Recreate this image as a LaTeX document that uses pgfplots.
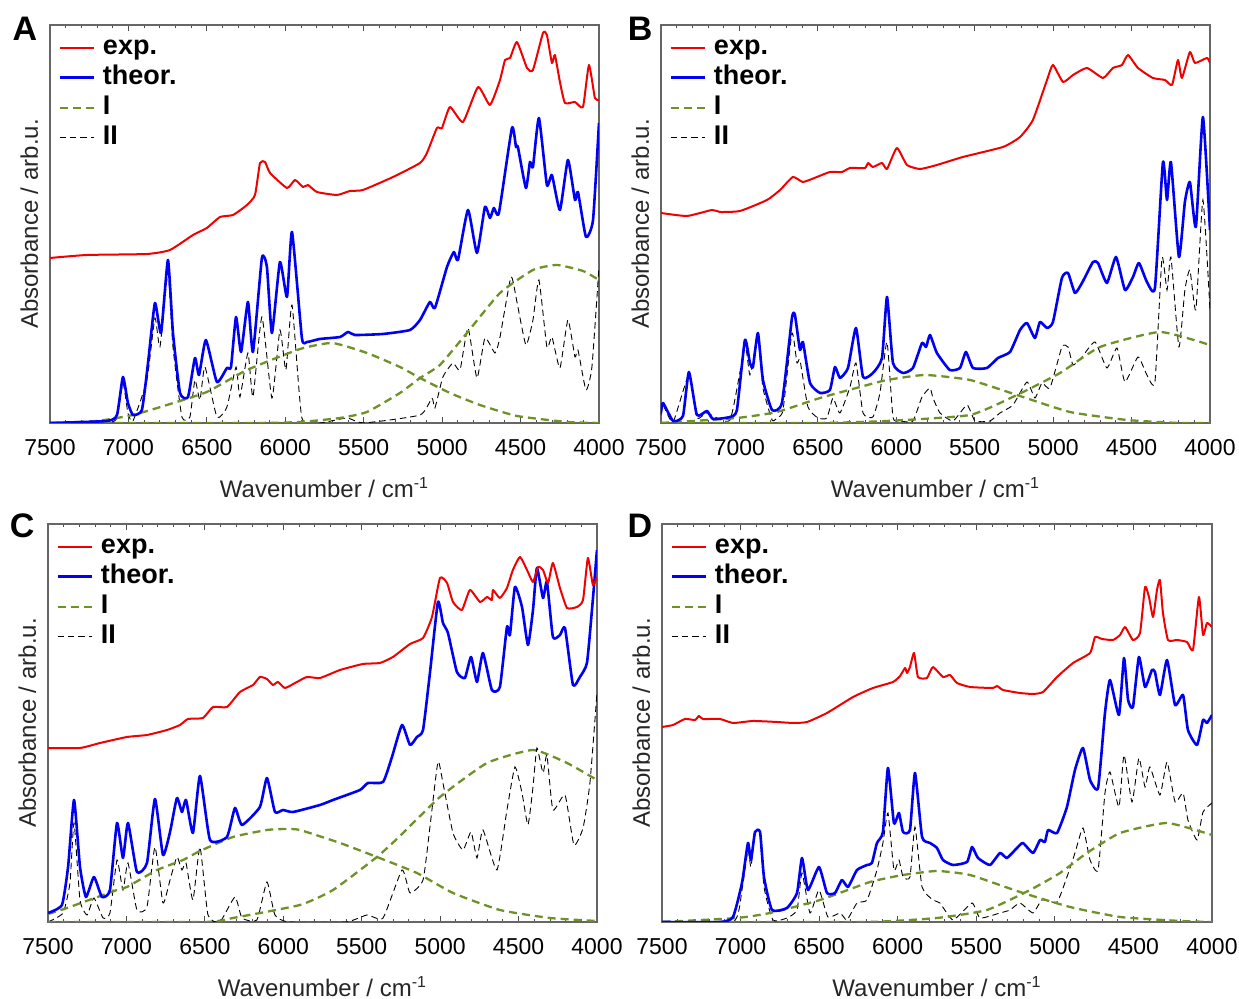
\documentclass[border=0pt]{standalone}
\usepackage{fontspec}
\setmainfont{Liberation Sans}
\usepackage{pgfplots}
\pgfplotsset{compat=1.18}

\definecolor{expred}{RGB}{240,0,0}
\definecolor{thblue}{RGB}{0,0,245}
\definecolor{compI}{RGB}{110,145,40}

\tikzset{
  sexp/.style={expred, line width=1.0pt, line join=round},
  sth/.style={thblue, line width=1.3pt, line join=round},
  sI/.style={compI, line width=1.15pt, dash pattern=on 4pt off 2.5pt},
  sII/.style={black, line width=0.45pt, dash pattern=on 3.2pt off 2pt},
  letter/.style={font=\bfseries\fontsize{17}{19}\selectfont, anchor=base},
}

\pgfplotsset{
  panel/.style={
    scale only axis, width=274.5pt, height=199pt, clip mode=individual,
    xmin=4000, xmax=7500, ymin=0, ymax=398, x dir=reverse,
    xtick={4000,4500,...,7500}, minor x tick num=4, ytick=\empty,
    tick align=inside, major tick length=3pt, minor tick length=1.6pt,
    axis line style={black!60, line width=0.6pt},
    every tick/.style={black!70, line width=0.4pt},
    ticklabel style={font=\fontsize{11.5}{13}\selectfont},
    xticklabel style={yshift=-4.5pt},
    /pgf/number format/assume math mode=true,
    /pgf/number format/1000 sep={}, scaled x ticks=false,
    xlabel={Wavenumber / cm\textsuperscript{-1}},
    ylabel={Absorbance / arb.u.},
    label style={font=\fontsize{12}{14}\selectfont, black!85},
    xlabel style={at={(rel axis cs:0.5,-0.186)}, anchor=base},
    ylabel style={at={(rel axis cs:-0.022,0.5)}, anchor=base},
    legend image code/.code={\draw[##1] (0pt,0pt) -- (17pt,0pt);},
    legend cell align=left,
    legend style={at={(rel axis cs:0,1)}, anchor=north west, xshift=4pt, yshift=-5pt,
      draw=none, fill=none, inner sep=0pt, row sep=2.6pt, column sep=4pt,
      font=\bfseries\fontsize{13.5}{15}\selectfont,
      nodes={inner sep=0pt, text height=9.8pt, text depth=2.6pt}},
    every axis plot/.append style={smooth, tension=0.3},
  },
}

\newcommand{\panellegend}{%
  \addlegendimage{sexp}
  \addlegendimage{sth}
  \addlegendimage{sI}
  \addlegendimage{sII}
  \legend{exp., theor., I, II}}

\begin{document}
\begin{tikzpicture}
\useasboundingbox (0,0) rectangle (619.5pt,499.5pt);

% ---------------- A ----------------
\begin{axis}[panel, at={(25pt,288pt)}, anchor=south west]
\addplot[sII, forget plot] coordinates {(7500,0) (7137,0) (7073,5) (7035,40) (7003,10) (6971,2) (6882,43) (6831,105) (6799,76) (6748,150) (6716,76) (6659,6) (6608,6) (6576,43) (6544,23) (6512,56) (6436,6) (6372,16) (6314,56) (6289,26) (6238,70) (6206,26) (6149,106) (6085,25) (6034,93) (5996,53) (5957,118) (5894,5) (5779,0) (5607,5) (5500,0) (5141,8) (5065,25) (5046,15) (4995,46) (4931,60) (4886,53) (4835,95) (4778,45) (4727,85) (4663,70) (4631,86) (4561,146) (4523,121) (4466,78) (4421,103) (4383,143) (4332,76) (4300,86) (4249,55) (4198,103) (4153,66) (4134,73) (4083,33) (4045,56) (4000,156)};
\addplot[sI, forget plot] coordinates {(7500,0) (7200,2) (6971,8) (6754,18) (6500,31) (6244,53) (5906,74) (5700,80) (5479,70) (5269,56) (5141,45) (4950,30) (4759,18) (4523,7) (4204,1) (4000,0)};
\addplot[sI, forget plot] coordinates {(7500,0) (6200,0) (5906,1) (5651,5) (5479,11) (5269,30) (5141,45) (5014,58) (4842,90) (4631,130) (4421,153) (4268,158) (4102,152) (4000,143)};
\addplot[sth, forget plot] coordinates {(7500,0) (7137,2) (7073,8) (7035,46) (7003,20) (6971,8) (6914,13) (6875,60) (6831,120) (6792,90) (6748,163) (6716,90) (6671,30) (6620,26) (6576,65) (6550,48) (6506,83) (6436,41) (6372,55) (6346,56) (6314,106) (6282,71) (6238,121) (6206,71) (6149,165) (6117,156) (6085,90) (6034,161) (5989,126) (5957,191) (5894,85) (5862,81) (5779,84) (5651,86) (5600,91) (5556,88) (5377,89) (5205,93) (5141,103) (5078,121) (5046,115) (4969,156) (4925,171) (4899,163) (4835,213) (4778,170) (4727,216) (4695,205) (4670,215) (4638,210) (4555,295) (4529,276) (4517,276) (4466,235) (4440,261) (4421,256) (4383,305) (4332,238) (4300,248) (4249,213) (4198,263) (4153,223) (4134,231) (4083,186) (4038,203) (4000,300)};
\addplot[sexp, forget plot] coordinates {(7500,165) (7264,168) (6882,169) (6735,173) (6588,188) (6500,195) (6416,206) (6333,208) (6244,218) (6193,228) (6161,260) (6129,261) (6097,250) (5989,235) (5938,243) (5887,236) (5855,238) (5798,231) (5670,228) (5588,232) (5505,233) (5313,246) (5141,260) (5097,270) (5033,295) (5001,295) (4950,316) (4867,301) (4771,336) (4695,318) (4631,343) (4599,363) (4567,365) (4523,381) (4459,355) (4421,353) (4357,390) (4332,388) (4300,360) (4281,368) (4249,341) (4217,320) (4153,321) (4102,316) (4064,358) (4026,325) (4000,323)};
\panellegend
\node[letter] at (rel axis cs:-0.0455,0.962) {A};
\end{axis}

% ---------------- B ----------------
\begin{axis}[panel, at={(330.5pt,288pt)}, anchor=south west]
\addplot[sII, forget plot] coordinates {(7500,8) (7487,18) (7423,1) (7322,48) (7271,5) (7207,10) (7060,3) (6965,76) (6933,48) (6882,85) (6850,35) (6792,3) (6761,5) (6722,13) (6665,90) (6633,60) (6614,63) (6563,16) (6499,5) (6442,5) (6404,25) (6359,10) (6295,36) (6257,60) (6212,10) (6149,6) (6104,30) (6059,81) (6021,6) (5976,2) (5894,2) (5836,26) (5785,35) (5766,25) (5721,10) (5638,2) (5549,18) (5498,2) (5403,2) (5339,10) (5256,18) (5167,41) (5116,25) (5071,40) (5020,35) (4944,76) (4905,76) (4873,58) (4816,66) (4733,81) (4657,55) (4593,75) (4542,41) (4459,66) (4402,48) (4351,41) (4306,165) (4274,133) (4249,166) (4198,76) (4160,133) (4128,153) (4090,113) (4045,223) (4000,113)};
\addplot[sI, forget plot] coordinates {(7500,0) (7016,5) (6761,11) (6486,25) (6231,36) (6059,43) (5817,48) (5530,43) (5231,28) (4893,11) (4529,3) (4200,0) (4000,0)};
\addplot[sI, forget plot] coordinates {(7500,0) (6500,0) (6059,2) (5530,8) (5231,28) (4956,50) (4701,76) (4319,91) (4000,78)};
\addplot[sth, forget plot] coordinates {(7500,10) (7487,20) (7423,2) (7360,7) (7322,51) (7271,8) (7207,12) (7168,4) (7060,6) (7016,13) (6965,83) (6933,60) (6914,56) (6882,90) (6850,43) (6792,13) (6729,20) (6665,105) (6646,108) (6614,73) (6595,81) (6550,40) (6486,30) (6423,33) (6391,56) (6359,45) (6308,55) (6257,95) (6212,46) (6149,50) (6091,65) (6059,126) (6021,60) (5957,50) (5894,55) (5836,80) (5810,76) (5785,88) (5741,70) (5659,53) (5594,55) (5556,71) (5511,55) (5422,55) (5352,65) (5275,71) (5211,93) (5167,100) (5116,85) (5084,101) (5039,95) (5001,101) (4944,145) (4905,150) (4861,130) (4816,140) (4746,161) (4714,160) (4657,140) (4599,166) (4542,133) (4491,146) (4453,160) (4402,141) (4351,135) (4300,261) (4274,223) (4249,261) (4198,166) (4160,221) (4128,241) (4090,196) (4045,306) (4000,193)};
\addplot[sexp, forget plot] coordinates {(7500,210) (7334,207) (7175,213) (7124,211) (6996,212) (6824,223) (6741,233) (6659,246) (6595,241) (6506,246) (6423,251) (6346,251) (6295,255) (6200,255) (6180,260) (6149,256) (6091,260) (6059,254) (5996,275) (5932,258) (5849,254) (5741,258) (5575,266) (5320,276) (5211,286) (5129,303) (5039,343) (5001,358) (4937,341) (4873,348) (4784,355) (4682,345) (4619,355) (4561,358) (4523,368) (4459,355) (4364,345) (4287,343) (4242,338) (4204,363) (4179,345) (4128,371) (4096,360) (4019,365) (4000,360)};
\panellegend
\node[letter] at (rel axis cs:-0.038,0.962) {B};
\end{axis}

% ---------------- C ----------------
\begin{axis}[panel, at={(24pt,38.5pt)}, anchor=south west]
\addplot[sII, forget plot] coordinates {(7500,0) (7404,9) (7360,39) (7334,99) (7296,22) (7251,7) (7207,24) (7149,4) (7105,9) (7060,62) (7022,32) (6990,59) (6933,12) (6869,15) (6818,75) (6767,19) (6722,42) (6678,65) (6646,52) (6620,59) (6576,22) (6531,75) (6480,7) (6404,0) (6308,25) (6263,4) (6168,2) (6104,40) (6053,7) (5964,0) (5600,0) (5466,7) (5364,4) (5243,52) (5192,29) (5109,42) (5065,95) (5014,160) (4982,139) (4918,89) (4854,72) (4803,90) (4765,64) (4727,92) (4638,52) (4574,112) (4523,155) (4478,129) (4440,97) (4408,135) (4383,174) (4344,149) (4319,167) (4281,112) (4204,127) (4147,77) (4089,94) (4045,139) (4000,229)};
\addplot[sI, forget plot] coordinates {(7500,8) (7379,14) (7060,32) (6996,35) (6805,52) (6639,62) (6531,71) (6321,85) (6104,92) (5980,93) (5894,92) (5638,79) (5403,65) (5148,49) (4918,29) (4619,12) (4300,4) (4000,1)};
\addplot[sI, forget plot] coordinates {(7500,0) (6500,0) (6321,4) (5894,17) (5683,32) (5403,65) (5256,86) (5001,125) (4701,159) (4408,172) (4191,159) (4000,142)};
\addplot[sth, forget plot] coordinates {(7500,9) (7411,17) (7372,55) (7334,122) (7296,55) (7258,25) (7207,45) (7156,25) (7105,32) (7060,99) (7022,64) (6990,99) (6933,50) (6869,59) (6818,123) (6767,67) (6722,90) (6678,124) (6646,110) (6620,122) (6576,89) (6531,146) (6467,82) (6359,85) (6308,114) (6263,97) (6149,115) (6104,144) (6053,110) (6002,112) (5938,110) (5766,117) (5683,122) (5511,132) (5460,139) (5364,140) (5307,165) (5243,197) (5192,177) (5148,185) (5109,192) (5065,249) (5014,320) (4982,299) (4950,289) (4893,250) (4842,244) (4803,265) (4765,240) (4727,269) (4670,232) (4619,235) (4574,295) (4555,287) (4523,335) (4478,315) (4440,277) (4408,312) (4383,354) (4344,324) (4319,340) (4281,285) (4236,287) (4204,294) (4153,237) (4109,245) (4064,259) (4032,312) (4000,372)};
\addplot[sexp, forget plot] coordinates {(7500,174) (7296,174) (7168,179) (6996,185) (6869,187) (6741,192) (6658,197) (6608,203) (6512,204) (6448,215) (6359,215) (6276,230) (6193,237) (6149,245) (6104,243) (6066,237) (6034,240) (5989,234) (5913,240) (5849,245) (5766,244) (5638,252) (5492,258) (5384,259) (5301,265) (5192,278) (5109,284) (5052,305) (5001,344) (4956,339) (4918,320) (4861,312) (4810,332) (4746,320) (4701,325) (4670,322) (4663,332) (4619,324) (4574,334) (4536,352) (4491,365) (4446,352) (4408,340) (4376,355) (4344,352) (4312,339) (4281,359) (4236,334) (4191,314) (4128,315) (4089,322) (4058,364) (4026,337) (4000,345)};
\panellegend
\node[letter] at (rel axis cs:-0.047,0.965) {C};
\end{axis}

% ---------------- D ----------------
\begin{axis}[panel, width=275pt, at={(331pt,38.5pt)}, anchor=south west]
\addplot[sII, forget plot] coordinates {(7500,0) (7048,0) (6991,32) (6953,72) (6934,55) (6908,89) (6876,89) (6851,35) (6794,2) (6705,4) (6641,12) (6609,49) (6558,9) (6501,32) (6444,5) (6367,9) (6323,2) (6259,19) (6195,22) (6132,52) (6094,79) (6062,109) (6024,52) (5992,62) (5966,45) (5922,45) (5890,95) (5845,35) (5776,22) (5731,19) (5648,2) (5527,19) (5476,4) (5349,9) (5285,12) (5222,19) (5139,9) (5082,22) (4986,20) (4923,45) (4872,69) (4821,94) (4776,62) (4725,52) (4681,129) (4649,150) (4592,115) (4560,167) (4509,120) (4465,164) (4426,135) (4395,155) (4331,127) (4286,160) (4235,120) (4184,129) (4153,102) (4095,82) (4057,110) (4000,119)};
\addplot[sI, forget plot] coordinates {(7500,0) (7023,4) (6813,9) (6494,22) (6176,40) (5966,47) (5750,51) (5540,47) (5222,30) (4904,15) (4585,5) (4200,1) (4000,0)};
\addplot[sI, forget plot] coordinates {(7500,0) (6200,0) (5750,4) (5432,12) (5158,32) (4967,49) (4796,69) (4585,89) (4286,99) (4000,87)};
\addplot[sth, forget plot] coordinates {(7500,0) (7131,0) (7048,5) (6991,39) (6953,79) (6934,62) (6908,90) (6876,90) (6851,45) (6800,12) (6705,14) (6641,29) (6609,64) (6571,32) (6501,55) (6450,29) (6399,29) (6355,42) (6316,35) (6259,52) (6195,57) (6164,59) (6132,79) (6094,90) (6062,154) (6024,99) (5992,109) (5966,90) (5922,92) (5890,149) (5845,85) (5794,79) (5750,74) (5712,62) (5648,57) (5559,60) (5527,75) (5489,64) (5413,57) (5349,69) (5305,64) (5241,74) (5203,79) (5139,69) (5094,82) (5063,80) (5043,92) (4986,89) (4923,115) (4872,152) (4821,174) (4776,142) (4725,134) (4681,209) (4649,242) (4592,207) (4560,264) (4534,222) (4503,215) (4465,265) (4426,235) (4382,252) (4363,250) (4331,227) (4286,262) (4235,217) (4184,227) (4153,192) (4095,177) (4057,202) (4032,199) (4000,207)};
\addplot[sexp, forget plot] coordinates {(7500,195) (7430,197) (7354,203) (7290,202) (7265,206) (7239,203) (7131,203) (7048,199) (6921,201) (6768,200) (6666,199) (6577,200) (6450,209) (6284,225) (6157,234) (6030,240) (5985,246) (5953,254) (5941,249) (5922,255) (5896,269) (5871,245) (5814,244) (5776,255) (5712,245) (5667,247) (5623,239) (5540,235) (5394,234) (5368,236) (5330,232) (5222,229) (5139,228) (5075,230) (4986,245) (4884,259) (4776,269) (4744,285) (4700,283) (4630,282) (4585,287) (4553,295) (4503,282) (4458,289) (4426,335) (4401,325) (4375,305) (4350,332) (4331,342) (4312,309) (4280,282) (4223,282) (4159,280) (4121,272) (4083,325) (4057,287) (4032,299) (4000,295)};
\panellegend
\node[letter] at (rel axis cs:-0.04,0.965) {D};
\end{axis}
\end{tikzpicture}
\end{document}
